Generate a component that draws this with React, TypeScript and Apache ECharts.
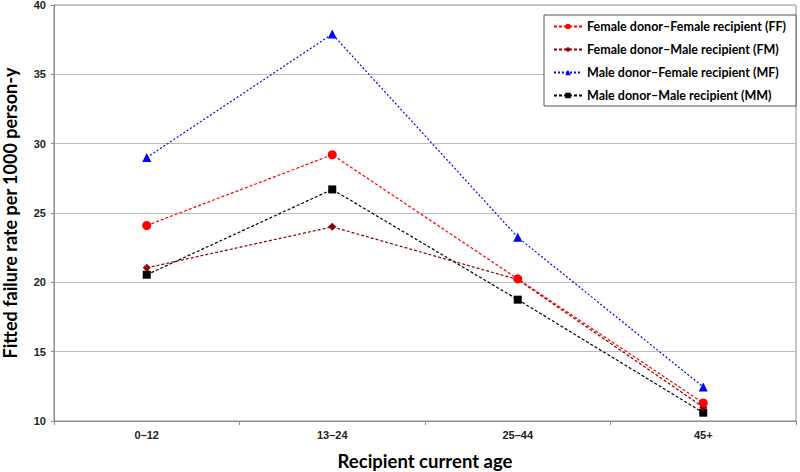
import React, { useEffect, useRef } from "react";
import * as echarts from "echarts";

const categories = ["0–12", "13–24", "25–44", "45+"];
const seriesNames = [
  "Female donor–Female recipient (FF)",
  "Female donor–Male recipient (FM)",
  "Male donor–Female recipient (MF)",
  "Male donor–Male recipient (MM)",
];
const ffValues = [24.1, 29.2, 20.25, 11.3];
const fmValues = [21.05, 24.0, 20.2, 11.0];
const mfValues = [29.0, 37.9, 23.25, 12.45];
const mmValues = [20.55, 26.7, 18.75, 10.6];
const yTicks = { min: 10, max: 40, interval: 5 };

const colors = ["#ff0000", "#8b0000", "#0000ff", "#000000"];
const symbols = ["circle", "diamond", "triangle", "rect"];
const symbolSizes = [9, 8, 9, 8];
const dashes = [[3, 2], [3, 2], [2, 2], [3, 2]];

export default function App() {
  const ref = useRef<HTMLDivElement>(null);
  useEffect(() => {
    const chart = echarts.init(ref.current!, null, { renderer: "svg" });
    const data = [ffValues, fmValues, mfValues, mmValues];
    chart.setOption({
      animation: false,
      backgroundColor: "#ffffff",
      grid: {
        left: 54,
        right: 4,
        top: 5,
        bottom: 51,
        containLabel: false,
        outerBoundsMode: "none",
        show: true,
        borderColor: "#8c8c8c",
        borderWidth: 1,
      },
      legend: {
        orient: "vertical",
        left: 544,
        top: 15,
        borderColor: "#555555",
        borderWidth: 1,
        backgroundColor: "#ffffff",
        padding: [4, 10, 3, 9],
        itemGap: 8,
        itemWidth: 28,
        itemHeight: 7,
        textStyle: {
          fontFamily: "Lato",
          fontWeight: "bold",
          fontSize: 12.5,
          lineHeight: 15,
          color: "#000000",
        },
        data: seriesNames,
      },
      xAxis: {
        type: "category",
        data: categories,
        boundaryGap: true,
        name: "Recipient current age",
        nameLocation: "middle",
        nameGap: 30,
        nameTextStyle: {
          fontFamily: "Lato",
          fontWeight: "bold",
          fontSize: 18.5,
          color: "#000000",
        },
        axisLine: { lineStyle: { color: "#8c8c8c" } },
        axisTick: { show: true, length: 4, lineStyle: { color: "#8c8c8c" } },
        axisLabel: {
          fontFamily: "Liberation Sans",
          fontWeight: "bold",
          fontSize: 11,
          color: "#222222",
          margin: 8,
        },
        splitLine: { show: false },
      },
      yAxis: {
        type: "value",
        min: yTicks.min,
        max: yTicks.max,
        interval: yTicks.interval,
        name: "Fitted failure rate per 1000 person-y",
        nameLocation: "middle",
        nameGap: 35,
        nameTextStyle: {
          fontFamily: "Lato",
          fontWeight: "bold",
          fontSize: 18,
          color: "#000000",
        },
        axisLine: { show: true, lineStyle: { color: "#8c8c8c" } },
        axisTick: { show: true, length: 3, lineStyle: { color: "#8c8c8c" } },
        axisLabel: {
          fontFamily: "Liberation Sans",
          fontWeight: "bold",
          fontSize: 11,
          color: "#222222",
          margin: 8,
        },
        splitLine: { show: true, lineStyle: { color: "#bdbdbd", width: 1 } },
      },
      series: seriesNames.map((name, i) => ({
        name,
        type: "line",
        data: data[i],
        symbol: symbols[i],
        symbolSize: symbolSizes[i],
        color: colors[i],
        itemStyle: { color: colors[i] },
        lineStyle: { color: colors[i], width: 1.2, type: dashes[i] },
        z: 10 - i,
      })),
    });
    return () => chart.dispose();
  }, []);
  return (
    <div
      ref={ref}
      style={{ position: "absolute", left: 0, top: 0, width: 800, height: 472 }}
    />
  );
}
